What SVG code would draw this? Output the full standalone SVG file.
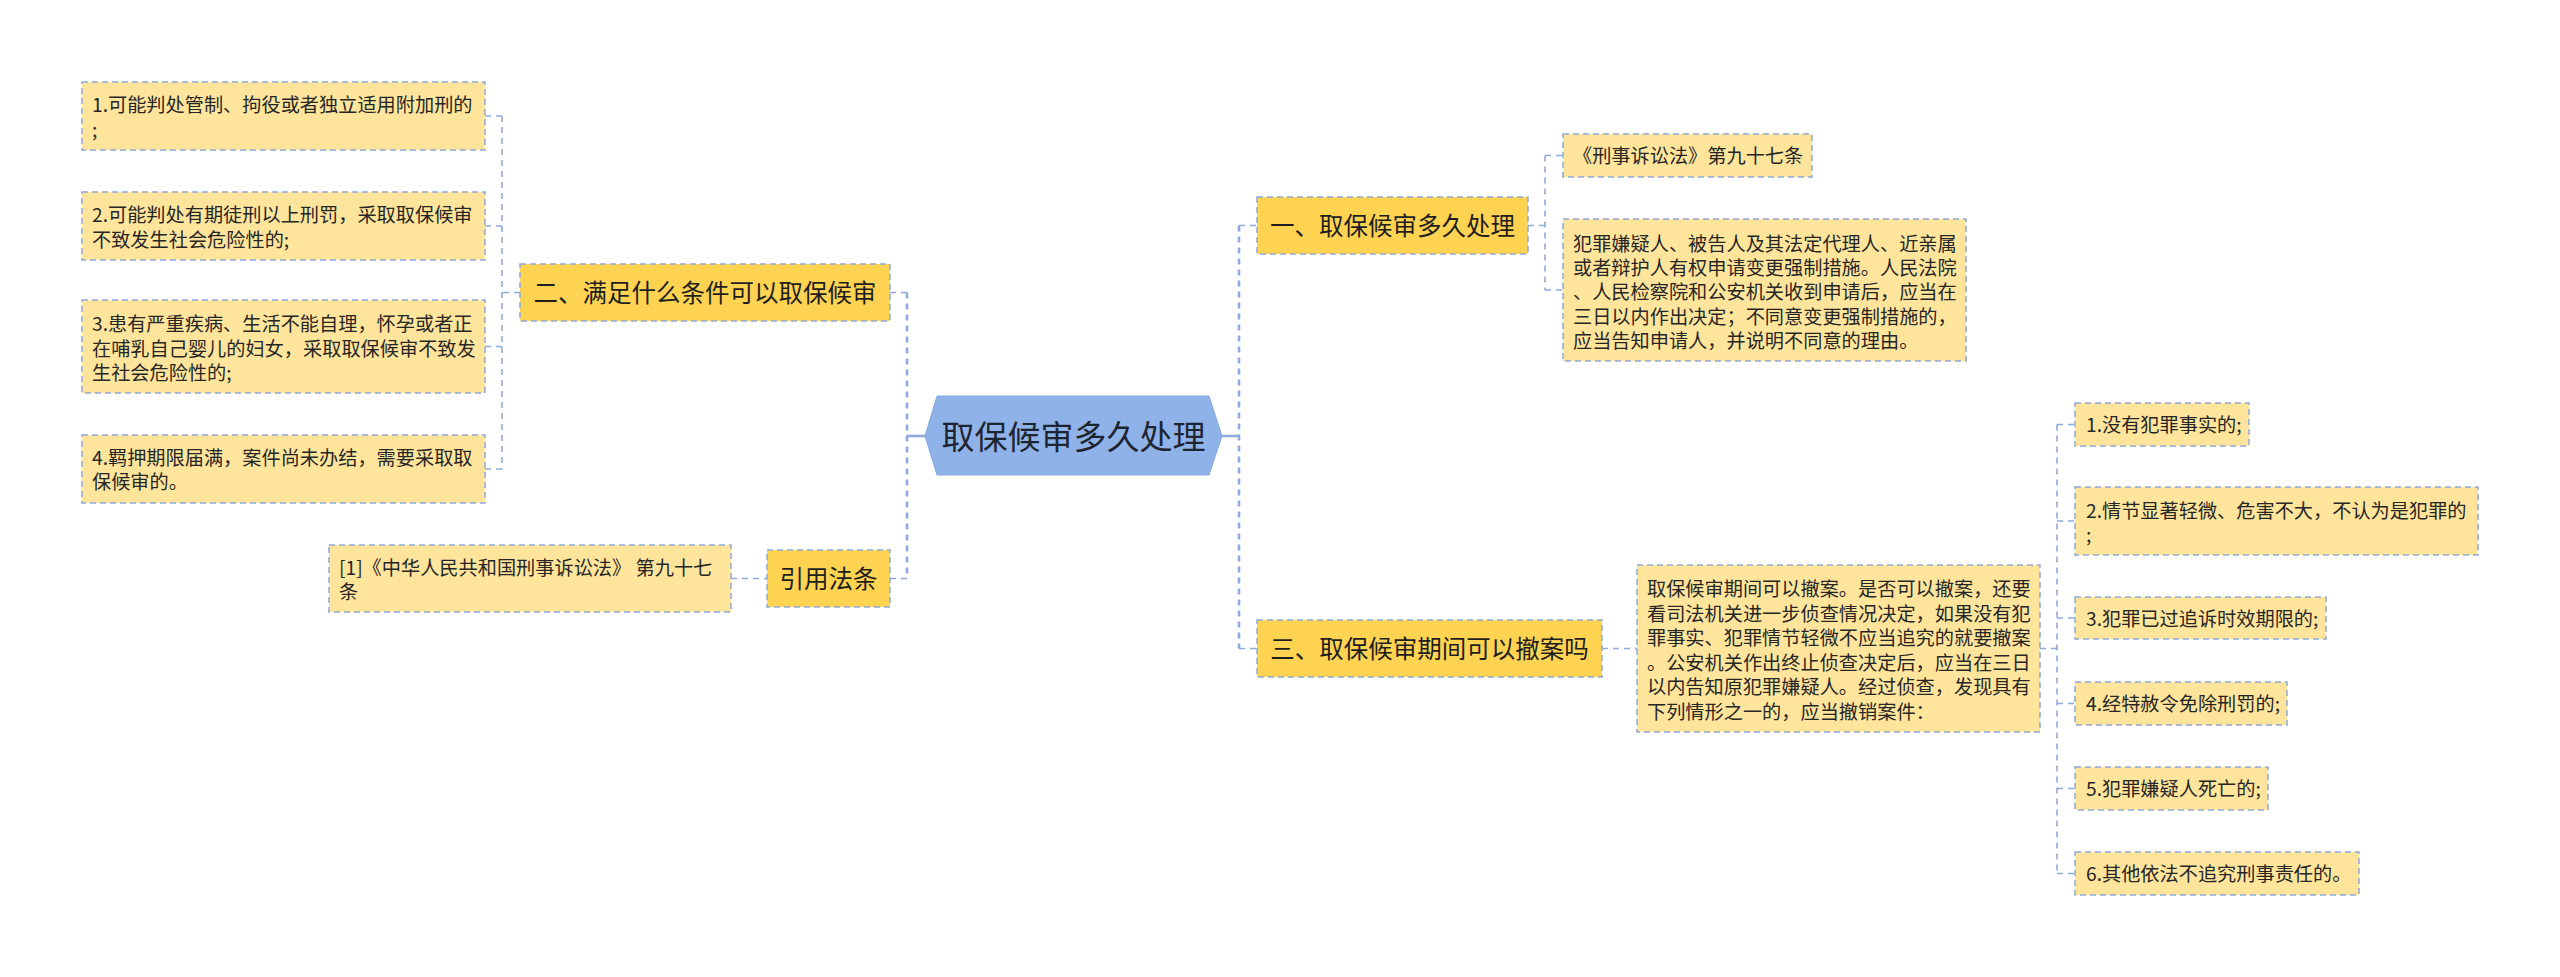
<svg xmlns="http://www.w3.org/2000/svg" width="2560" height="977" viewBox="0 0 2560 977">
<style>
  .conn{fill:none;stroke:#8FAADC;stroke-width:1.6;stroke-dasharray:6 5}
  .main{fill:none;stroke:#8FAADC;stroke-width:2.6;stroke-dasharray:6 5}
  .solid{fill:none;stroke:#8FAADC;stroke-width:2.6}
  .leaf{fill:#FFE59C;stroke:#8EA9D6;stroke-width:1.5;stroke-dasharray:6 4}
  .lvl1{fill:#FFD352;stroke:#8EA9D6;stroke-width:1.5;stroke-dasharray:6 4}
  .hex{fill:#8FB3E9;stroke:#86A8DC;stroke-width:1}
  text{font-family:"Noto Sans CJK SC","Noto Sans",sans-serif;fill:#262626}
  .t19{font-size:19.2px}
  .t24{font-size:24.5px;text-anchor:middle;fill:#1E1E1E}
  .t33{font-size:33px;text-anchor:middle;fill:#1E2530}
</style>
<rect width="2560" height="977" fill="#FFFFFF"/>
<g id="connectors">
  <path class="main" d="M907 292.5V578.5"/>
  <path class="conn" d="M890 292.5H907M890 578.5H907"/>
  <path class="solid" d="M907 436H925"/>
  <path class="conn" d="M520 292.5H502M502 116V469M485 116H502M485 226H502M485 346.5H502M485 469H502"/>
  <path class="conn" d="M731 578.5H767"/>
  <path class="main" d="M1239 225.5V648.5"/>
  <path class="solid" d="M1222 436H1239"/>
  <path class="conn" d="M1239 225.5H1257M1239 648.5H1257"/>
  <path class="conn" d="M1528 225.5H1545M1545 155.5V290M1545 155.5H1563M1545 290H1563"/>
  <path class="conn" d="M1602 648.5H1637"/>
  <path class="conn" d="M2040 648.5H2057M2057 424.5V873.5M2057 424.5H2075M2057 521H2075M2057 618H2075M2057 703.5H2075M2057 788.5H2075M2057 873.5H2075"/>
</g>
<g id="center">
  <polygon class="hex" points="925,436 937,396 1209,396 1222,436 1209,475 937,475"/>
  <text class="t33" x="1073.5" y="448.5">取保候审多久处理</text>
</g>
<g id="n2">
  <rect class="lvl1" x="520" y="264" width="370" height="57"/>
  <text class="t24" x="705" y="302">二、满足什么条件可以取保候审</text>
</g>
<g id="n2-1">
  <rect class="leaf" x="82" y="82" width="403" height="68"/>
  <text class="t19"><tspan x="92" y="112">1.可能判处管制、拘役或者独立适用附加刑的</tspan><tspan x="92" y="137">;</tspan></text>
</g>
<g id="n2-2">
  <rect class="leaf" x="82" y="192" width="403" height="68"/>
  <text class="t19"><tspan x="92" y="222">2.可能判处有期徒刑以上刑罚，采取取保候审</tspan><tspan x="92" y="247">不致发生社会危险性的;</tspan></text>
</g>
<g id="n2-3">
  <rect class="leaf" x="82" y="300" width="403" height="93"/>
  <text class="t19"><tspan x="92" y="331">3.患有严重疾病、生活不能自理，怀孕或者正</tspan><tspan x="92" y="355.5">在哺乳自己婴儿的妇女，采取取保候审不致发</tspan><tspan x="92" y="380">生社会危险性的;</tspan></text>
</g>
<g id="n2-4">
  <rect class="leaf" x="82" y="435" width="403" height="68"/>
  <text class="t19"><tspan x="92" y="465">4.羁押期限届满，案件尚未办结，需要采取取</tspan><tspan x="92" y="489">保候审的。</tspan></text>
</g>
<g id="nref">
  <rect class="lvl1" x="767" y="550" width="123" height="57"/>
  <text class="t24" x="828.5" y="588">引用法条</text>
</g>
<g id="nref-1">
  <rect class="leaf" x="329" y="545" width="402" height="67"/>
  <text class="t19"><tspan x="339" y="575">[1]《中华人民共和国刑事诉讼法》 第九十七</tspan><tspan x="339" y="599">条</tspan></text>
</g>
<g id="n1">
  <rect class="lvl1" x="1257" y="197" width="271" height="57"/>
  <text class="t24" x="1392.5" y="235">一、取保候审多久处理</text>
</g>
<g id="n1-1">
  <rect class="leaf" x="1563" y="134" width="249" height="43"/>
  <text class="t19" x="1573" y="163">《刑事诉讼法》第九十七条</text>
</g>
<g id="n1-2">
  <rect class="leaf" x="1563" y="219" width="403" height="142"/>
  <text class="t19"><tspan x="1573" y="250.5">犯罪嫌疑人、被告人及其法定代理人、近亲属</tspan><tspan x="1573" y="274.5">或者辩护人有权申请变更强制措施。人民法院</tspan><tspan x="1573" y="299">、人民检察院和公安机关收到申请后，应当在</tspan><tspan x="1573" y="323.5">三日以内作出决定；不同意变更强制措施的，</tspan><tspan x="1573" y="348">应当告知申请人，并说明不同意的理由。</tspan></text>
</g>
<g id="n3">
  <rect class="lvl1" x="1257" y="620" width="345" height="57"/>
  <text class="t24" x="1429.5" y="658">三、取保候审期间可以撤案吗</text>
</g>
<g id="n3-1">
  <rect class="leaf" x="1637" y="565" width="403" height="167"/>
  <text class="t19"><tspan x="1647" y="596">取保候审期间可以撤案。是否可以撤案，还要</tspan><tspan x="1647" y="620.5">看司法机关进一步侦查情况决定，如果没有犯</tspan><tspan x="1647" y="645">罪事实、犯罪情节轻微不应当追究的就要撤案</tspan><tspan x="1647" y="669.5">。公安机关作出终止侦查决定后，应当在三日</tspan><tspan x="1647" y="694">以内告知原犯罪嫌疑人。经过侦查，发现具有</tspan><tspan x="1647" y="718.5">下列情形之一的，应当撤销案件：</tspan></text>
</g>
<g id="n3-1-1">
  <rect class="leaf" x="2075" y="403" width="174" height="43"/>
  <text class="t19" x="2086" y="432">1.没有犯罪事实的;</text>
</g>
<g id="n3-1-2">
  <rect class="leaf" x="2075" y="487" width="403" height="68"/>
  <text class="t19"><tspan x="2086" y="517.5">2.情节显著轻微、危害不大，不认为是犯罪的</tspan><tspan x="2086" y="542">;</tspan></text>
</g>
<g id="n3-1-3">
  <rect class="leaf" x="2075" y="597" width="251" height="42"/>
  <text class="t19" x="2086" y="625.5">3.犯罪已过追诉时效期限的;</text>
</g>
<g id="n3-1-4">
  <rect class="leaf" x="2075" y="682" width="212" height="43"/>
  <text class="t19" x="2086" y="711">4.经特赦令免除刑罚的;</text>
</g>
<g id="n3-1-5">
  <rect class="leaf" x="2075" y="767" width="193" height="43"/>
  <text class="t19" x="2086" y="796">5.犯罪嫌疑人死亡的;</text>
</g>
<g id="n3-1-6">
  <rect class="leaf" x="2075" y="852" width="284" height="43"/>
  <text class="t19" x="2086" y="881">6.其他依法不追究刑事责任的。</text>
</g>
</svg>
